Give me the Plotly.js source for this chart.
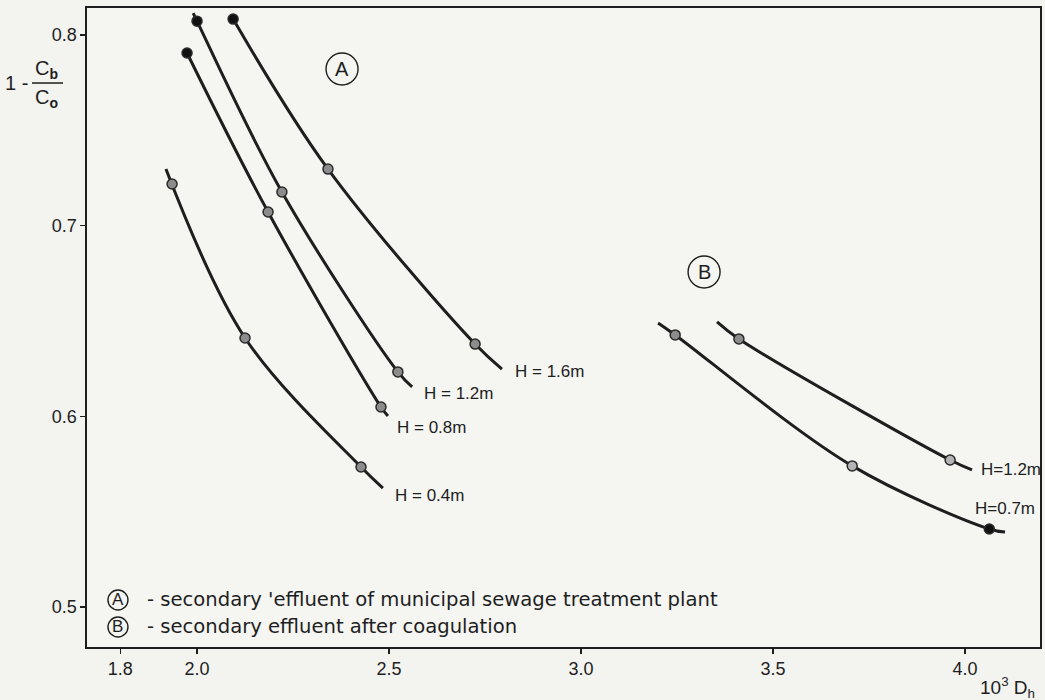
<!DOCTYPE html>
<html>
<head>
<meta charset="utf-8">
<script src="https://cdn.plot.ly/plotly-3.0.1.min.js"></script>
<style>
  html, body { margin: 0; padding: 0; background: #f3f3f0; }
  #chart { width: 1045px; height: 700px; }
</style>
</head>
<body>
<div id="chart"></div>
<script>
// ---------- DATA ----------
const xTickVals = [1.8, 2.0, 2.5, 3.0, 3.5, 4.0];
const xTickText = ['1.8', '2.0', '2.5', '3.0', '3.5', '4.0'];
const yTickVals = [0.5, 0.6, 0.7, 0.8];
const yTickText = ['0.5', '0.6', '0.7', '0.8'];

// Group A – secondary effluent of municipal sewage treatment plant
const a16LineX = [2.094, 2.341, 2.724, 2.794];
const a16LineY = [0.8084, 0.7297, 0.6379, 0.6248];
const a16PtX = [2.094, 2.341, 2.724];
const a16PtY = [0.8084, 0.7297, 0.6379];
const a16PtKind = ['solid', 'open', 'open'];

const a12LineX = [1.990, 2.000, 2.221, 2.523, 2.560];
const a12LineY = [0.8115, 0.8073, 0.7177, 0.6233, 0.6154];
const a12PtX = [2.000, 2.221, 2.523];
const a12PtY = [0.8073, 0.7177, 0.6233];
const a12PtKind = ['solid', 'open', 'open'];

const a08LineX = [1.974, 2.185, 2.479, 2.497];
const a08LineY = [0.7906, 0.7072, 0.6049, 0.6002];
const a08PtX = [1.974, 2.185, 2.479];
const a08PtY = [0.7906, 0.7072, 0.6049];
const a08PtKind = ['solid', 'open', 'open'];

const a04LineX = [1.919, 2.125, 2.427, 2.484];
const a04LineY = [0.7297, 0.6411, 0.5734, 0.5624];
const a04PtX = [1.935, 2.125, 2.427];
const a04PtY = [0.7219, 0.6411, 0.5734];
const a04PtKind = ['open', 'open', 'open'];

// Group B – secondary effluent after coagulation
const b12LineX = [3.354, 3.411, 3.961, 4.018];
const b12LineY = [0.6495, 0.6406, 0.5771, 0.5719];
const b12PtX = [3.411, 3.961];
const b12PtY = [0.6406, 0.5771];
const b12PtKind = ['open', 'light'];

const b07LineX = [3.2005, 3.245, 3.706, 4.063, 4.104];
const b07LineY = [0.6490, 0.6427, 0.5740, 0.5409, 0.5393];
const b07PtX = [3.245, 3.706, 4.063];
const b07PtY = [0.6427, 0.5740, 0.5409];
const b07PtKind = ['open', 'light', 'solid'];

const curveLabels = ['H = 1.6m', 'H = 1.2m', 'H = 0.8m', 'H = 0.4m', 'H=1.2m', 'H=0.7m'];
const groupLetters = ['A', 'B'];
const groupTexts = ["- secondary 'effluent of municipal sewage treatment plant",
                    "- secondary effluent after coagulation"];
const xTitle = '10<sup>3</sup> D<sub>h</sub>';

// ---------- STYLE / LAYOUT ----------
const INK = '#1e1e1e';
const kindFill = {solid: '#111111', open: '#8c8c8c', light: '#b4b4b4'};
const curves = [
  {lx: a16LineX, ly: a16LineY, px: a16PtX, py: a16PtY, k: a16PtKind, label: curveLabels[0], lab: [2.823, 0.6233]},
  {lx: a12LineX, ly: a12LineY, px: a12PtX, py: a12PtY, k: a12PtKind, label: curveLabels[1], lab: [2.586, 0.6122]},
  {lx: a08LineX, ly: a08LineY, px: a08PtX, py: a08PtY, k: a08PtKind, label: curveLabels[2], lab: [2.516, 0.5939]},
  {lx: a04LineX, ly: a04LineY, px: a04PtX, py: a04PtY, k: a04PtKind, label: curveLabels[3], lab: [2.510, 0.5587]},
  {lx: b12LineX, ly: b12LineY, px: b12PtX, py: b12PtY, k: b12PtKind, label: curveLabels[4], lab: [4.036, 0.5719]},
  {lx: b07LineX, ly: b07LineY, px: b07PtX, py: b07PtY, k: b07PtKind, label: curveLabels[5], lab: [4.021, 0.5519]}
];

const traces = [];
curves.forEach(c => {
  traces.push({
    type: 'scatter', mode: 'lines', x: c.lx, y: c.ly,
    line: {color: INK, width: 3, shape: 'spline', smoothing: 1},
    hoverinfo: 'skip', showlegend: false
  });
});
curves.forEach(c => {
  traces.push({
    type: 'scatter', mode: 'markers', x: c.px, y: c.py,
    marker: {
      size: 10,
      color: c.k.map(k => kindFill[k]),
      line: {color: '#2a2a2a', width: 1.5}
    },
    cliponaxis: false, showlegend: false, hoverinfo: 'x+y'
  });
});

const annotations = [];
const shapes = [];
const labFont = {family: 'Liberation Sans, Arial, sans-serif', size: 17, color: INK};
curves.forEach(c => {
  annotations.push({
    x: c.lab[0], y: c.lab[1], xref: 'x', yref: 'y', text: c.label,
    showarrow: false, xanchor: 'left', yanchor: 'middle', font: labFont
  });
});

// circled group letters inside the plot
const circPos = [[2.3776, 0.7822], [3.3203, 0.6757]];
groupLetters.forEach((g, i) => {
  shapes.push({
    type: 'circle', xref: 'x', yref: 'y', xsizemode: 'pixel', ysizemode: 'pixel',
    xanchor: circPos[i][0], yanchor: circPos[i][1], x0: -16, x1: 16, y0: -16, y1: 16,
    line: {color: INK, width: 1.4}
  });
  annotations.push({
    x: circPos[i][0], y: circPos[i][1], xref: 'x', yref: 'y', text: g, showarrow: false,
    xanchor: 'center', yanchor: 'middle',
    font: {family: 'Liberation Sans, Arial, sans-serif', size: 20, color: INK}
  });
});

// key at the bottom-left (paper coordinates)
const keyRows = [0.0736, 0.0313];
groupLetters.forEach((g, i) => {
  shapes.push({
    type: 'circle', xref: 'paper', yref: 'paper', xsizemode: 'pixel', ysizemode: 'pixel',
    xanchor: 0.0325, yanchor: keyRows[i], x0: -10, x1: 10, y0: -10, y1: 10,
    line: {color: INK, width: 1.4}
  });
  annotations.push({
    x: 0.0325, y: keyRows[i], xref: 'paper', yref: 'paper', text: g, showarrow: false,
    xanchor: 'center', yanchor: 'middle',
    font: {family: 'Liberation Sans, Arial, sans-serif', size: 17, color: INK}
  });
  annotations.push({
    x: 0.0609, y: keyRows[i], xref: 'paper', yref: 'paper', text: groupTexts[i], showarrow: false,
    xanchor: 'left', yanchor: 'middle',
    font: {family: 'DejaVu Sans, sans-serif', size: 19.6, color: INK}
  });
});

// x-axis title (bottom right)
annotations.push({
  x: 0.9969, y: -0.0626, xref: 'paper', yref: 'paper', text: xTitle, showarrow: false,
  xanchor: 'right', yanchor: 'middle',
  font: {family: 'Liberation Sans, Arial, sans-serif', size: 19, color: INK}
});

// y-axis title: 1 - Cb/Co
const yFont = {family: 'Liberation Sans, Arial, sans-serif', size: 20, color: INK};
annotations.push({x: -0.0745, y: 0.8826, xref: 'paper', yref: 'paper', text: '1 -', showarrow: false,
  xanchor: 'center', yanchor: 'middle', font: yFont});
annotations.push({x: -0.043, y: 0.9030, xref: 'paper', yref: 'paper', text: 'C<sub><b>b</b></sub>', showarrow: false,
  xanchor: 'center', yanchor: 'middle', font: yFont});
annotations.push({x: -0.043, y: 0.8590, xref: 'paper', yref: 'paper', text: 'C<sub><b>o</b></sub>', showarrow: false,
  xanchor: 'center', yanchor: 'middle', font: yFont});
shapes.push({type: 'line', xref: 'paper', yref: 'paper', x0: -0.0577, x1: -0.0252, y0: 0.8826, y1: 0.8826,
  line: {color: INK, width: 1.5}});

const axisCommon = {
  showline: true, linecolor: INK, linewidth: 1.6, mirror: true,
  ticks: 'outside', ticklen: 5, tickwidth: 1.4, tickcolor: INK,
  showgrid: false, zeroline: false,
  tickfont: {family: 'Liberation Sans, Arial, sans-serif', size: 18, color: INK}
};

const layout = {
  width: 1045, height: 700,
  margin: {l: 87, r: 5, t: 8, b: 53},
  paper_bgcolor: '#f3f3f0', plot_bgcolor: '#f5f5f2',
  showlegend: false,
  xaxis: Object.assign({}, axisCommon, {
    range: [1.7135, 4.195], tickmode: 'array', tickvals: xTickVals, ticktext: xTickText
  }),
  yaxis: Object.assign({}, axisCommon, {
    range: [0.479, 0.8142], tickmode: 'array', tickvals: yTickVals, ticktext: yTickText
  }),
  annotations: annotations,
  shapes: shapes
};

Plotly.newPlot('chart', traces, layout, {displayModeBar: false, staticPlot: true});
</script>
</body>
</html>
